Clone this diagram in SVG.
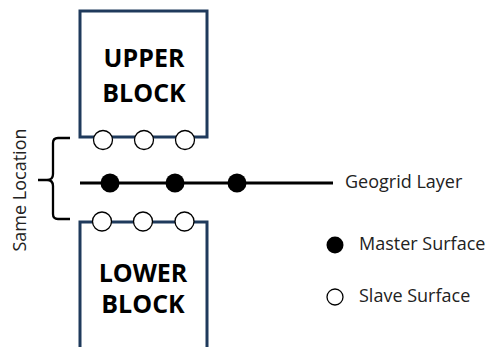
<svg xmlns="http://www.w3.org/2000/svg" width="500" height="347" viewBox="0 0 500 347">
<style>
.block{fill:#fff;stroke:#1f3a5c;stroke-width:3}
.title{font-family:"Open Sans",sans-serif;font-weight:700;font-size:25px;fill:#000;text-anchor:middle}
.lbl{font-family:"Open Sans",sans-serif;font-size:18px;fill:#222}
.slave{fill:#fff;stroke:#000;stroke-width:1.3}
.master{fill:#000}
.line{stroke:#000;stroke-width:3;fill:none}
</style>
<rect width="500" height="347" fill="#fff"/>
<g id="upper-block">
<rect class="block" x="80" y="11" width="127" height="126"/>
<text class="title" x="144" y="67">UPPER</text>
<text class="title" x="144" y="102">BLOCK</text>
<circle class="slave" cx="103" cy="140" r="9.5"/>
<circle class="slave" cx="144" cy="140" r="9.5"/>
<circle class="slave" cx="185" cy="140" r="9.5"/>
</g>
<g id="lower-block">
<path class="block" d="M80,350 V222 H207 V350"/>
<text class="title" x="143" y="282">LOWER</text>
<text class="title" x="143" y="313">BLOCK</text>
<circle class="slave" cx="102" cy="221.5" r="9.5"/>
<circle class="slave" cx="143" cy="221.5" r="9.5"/>
<circle class="slave" cx="184.5" cy="221.5" r="9.5"/>
</g>
<g id="geogrid">
<line class="line" x1="80" y1="183" x2="333" y2="183"/>
<circle class="master" cx="110" cy="183" r="9.5"/>
<circle class="master" cx="175" cy="183" r="9.5"/>
<circle class="master" cx="237" cy="183" r="9.5"/>
<text class="lbl" x="345" y="188">Geogrid Layer</text>
</g>
<g id="brace">
<path fill="none" stroke="#000" stroke-width="2.3" d="M70,138 H58 Q53,138 53,143 V174 Q53,180 47,180 H38 M47,180 Q53,180 53,186 V214 Q53,219 58,219 H70"/>
<text class="lbl" transform="translate(26,190) rotate(-90)" text-anchor="middle">Same Location</text>
</g>
<g id="legend">
<circle class="master" cx="335" cy="245" r="8.5"/>
<text class="lbl" x="359" y="250">Master Surface</text>
<circle class="slave" cx="335" cy="297" r="8"/>
<text class="lbl" x="359" y="302">Slave Surface</text>
</g>
</svg>
